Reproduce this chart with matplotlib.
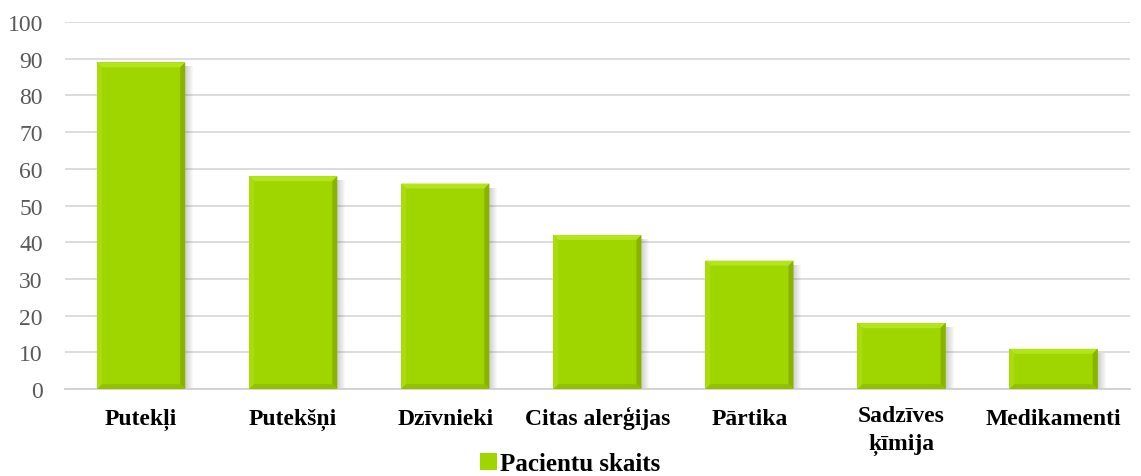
import matplotlib
matplotlib.use("Agg")
import matplotlib.pyplot as plt
from matplotlib.patches import Polygon, Rectangle
from matplotlib.transforms import IdentityTransform, ScaledTranslation

categories = ["Putekļi", "Putekšņi", "Dzīvnieki", "Citas alerģijas", "Pārtika",
              "Sadzīves\nķīmija", "Medikamenti"]
values = [89, 58, 56, 42, 35, 18, 11]
yticks = [0, 10, 20, 30, 40, 50, 60, 70, 80, 90, 100]
series_name = "Pacientu skaits"

plt.rcParams['font.family'] = ['Liberation Serif', 'DejaVu Serif']

fig = plt.figure(figsize=(11.41, 4.77), dpi=100)
ax = fig.add_axes([0.057, 0.182, 0.933, 0.770])

main = "#a0d600"
x = range(len(categories))
bars = ax.bar(x, values, width=0.58, color=main, zorder=3, label=series_name)

ax.set_ylim(0, 100)
ax.set_xlim(-0.5, len(categories) - 0.5)
ax.set_yticks(yticks)
ax.set_yticklabels([str(v) for v in yticks], color="#595959", fontsize=17)
ax.set_xticks(list(x))
ax.set_xticklabels(categories, fontsize=17, fontweight="bold", color="black",
                   linespacing=1.45, va="baseline")
ax.tick_params(axis="x", length=0, pad=25)
ax.tick_params(axis="y", length=0, pad=16)
ax.grid(axis="y", color="#d9d9d9", linewidth=1.3, zorder=0)
for s in ["top", "right", "left"]:
    ax.spines[s].set_visible(False)
ax.spines["bottom"].set_color("#d0d0d0")
ax.spines["bottom"].set_linewidth(1.3)

fig.legend(handles=[bars], labels=[series_name], loc="center",
           bbox_to_anchor=(0.5, 1 - 465 / 477), frameon=False,
           prop={"weight": "bold", "size": 18}, handlelength=0.65, handleheight=0.65,
           handletextpad=0.15, borderpad=0)

fig.canvas.draw()
# move multi-line labels down so their first line shares the others' baseline
for lab in ax.get_xticklabels():
    nlines = lab.get_text().count("\n")
    if nlines:
        ext = lab.get_window_extent()
        line_h = ext.height / (nlines + 1)
        lab.set_transform(lab.get_transform() +
                          ScaledTranslation(0, -(nlines * line_h) / fig.dpi,
                                            fig.dpi_scale_trans))

b = 5
idt = IdentityTransform()
for bar in bars:
    e = bar.get_window_extent()
    x0, y0, x1, y1 = e.x0, e.y0, e.x1, e.y1
    for i in range(8):
        ax.add_patch(Rectangle((x1 + i, y0 - 3), 1, (y1 - 4) - (y0 - 3),
                               facecolor="#606060", alpha=0.30 * (1 - i / 8),
                               edgecolor="none", transform=idt, zorder=2.5))
    ax.add_patch(Rectangle((x0 + 3, y0 - 3), x1 - x0, 3, facecolor="#808080",
                           alpha=0.25, edgecolor="none", transform=idt, zorder=2.5))
    polys = [
        ([(x0, y1), (x1, y1), (x1 - b, y1 - b), (x0 + b, y1 - b)], "#b4e41c"),
        ([(x0, y0), (x0 + b, y0 + b), (x0 + b, y1 - b), (x0, y1)], "#aadc0c"),
        ([(x1, y0), (x1, y1), (x1 - b, y1 - b), (x1 - b, y0 + b)], "#88b400"),
        ([(x0, y0), (x1, y0), (x1 - b, y0 + b), (x0 + b, y0 + b)], "#90c000"),
    ]
    for pts, c in polys:
        ax.add_patch(Polygon(pts, closed=True, facecolor=c, edgecolor="none",
                             transform=idt, zorder=4))

fig.savefig("out.png", dpi=100)
